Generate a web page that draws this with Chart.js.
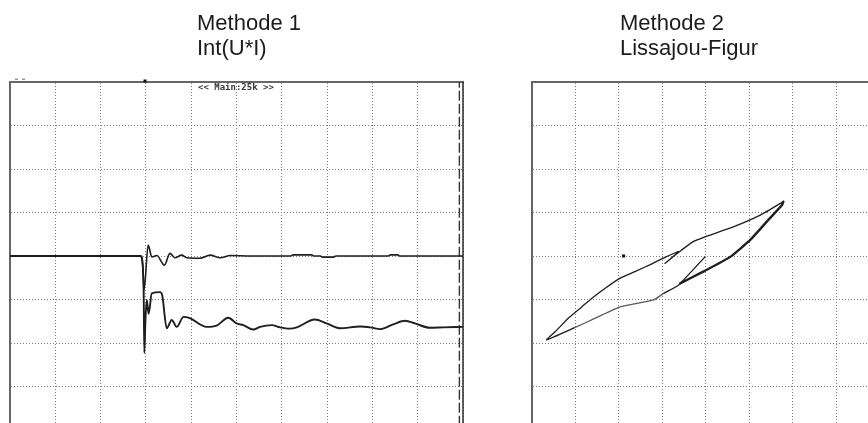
<!DOCTYPE html>
<html>
<head>
<meta charset="utf-8">
<script src="https://cdn.jsdelivr.net/npm/chart.js@4.4.1/dist/chart.umd.min.js"></script>
<style>
  html, body { margin: 0; padding: 0; background: #fff; overflow: hidden; }
  #stage { position: relative; width: 868px; height: 423px; overflow: hidden; background: #fff; }
  canvas { position: absolute; top: 0; }
  .title {
    position: absolute;
    font-family: "Liberation Sans", Arial, sans-serif;
    font-size: 22px;
    line-height: 24.5px;
    color: #1c1c1c;
    white-space: nowrap;
  }
  .scope-label {
    position: absolute;
    font-family: "DejaVu Sans Mono", monospace;
    font-weight: bold;
    font-size: 9px;
    line-height: 9px;
    color: #3a3a3a;
    white-space: pre;
  }
</style>
</head>
<body>
<div id="stage">
  <canvas id="scope-time" width="500" height="460" style="left:0"></canvas>
  <canvas id="scope-xy" width="400" height="460" style="left:500px"></canvas>
  <div class="title" style="left:197px;top:11px">Methode 1<br>Int(U*I)</div>
  <div class="title" style="left:620px;top:11px">Methode 2<br>Lissajou-Figur</div>
  <div class="scope-label" style="left:198px;top:83px">&lt;&lt; Main:25k &gt;&gt;</div>
</div>
<script>
// screen units: divisions (10 x 8 for the time view, 8 x 8 for the xy view)
const ch1Time = [0, 2.87, 2.93, 2.96, 3.05, 3.13, 3.24, 3.41, 3.53, 3.64, 3.79, 3.90, 4.19, 4.42, 4.64, 4.86,
                 5.30, 6.20, 6.25, 6.66, 6.70, 6.85, 6.90, 7.14, 7.20, 8.35, 8.40, 8.56, 8.60, 10];
const ch1Volt = [0, 0, -0.21, -0.78, 0.25, -0.02, 0.01, -0.21, 0.06, -0.04, 0.02, -0.04, -0.05, 0.02, -0.04, 0.01,
                 0, 0, 0.025, 0.025, 0, 0, -0.025, -0.025, 0, 0, 0.025, 0.025, 0, 0];

const ch2Time = [0, 2.89, 2.95, 2.965, 2.99, 3.02, 3.06, 3.13, 3.31, 3.36, 3.46, 3.57, 3.68, 3.83, 3.97, 4.34,
                 4.56, 4.82, 5.00, 5.15, 5.37, 5.52, 5.78, 5.96, 6.18, 6.33, 6.73, 6.99, 7.28, 7.73, 7.95,
                 8.17, 8.46, 8.72, 8.94, 9.27, 9.57, 10];
const ch2Volt = [0, 0, -0.78, -2.23, -1.47, -1.01, -1.33, -0.86, -0.83, -0.90, -1.66, -1.47, -1.63, -1.40, -1.43, -1.63,
                 -1.60, -1.42, -1.55, -1.59, -1.69, -1.63, -1.59, -1.64, -1.67, -1.64, -1.46, -1.55, -1.66, -1.62, -1.64,
                 -1.68, -1.57, -1.49, -1.55, -1.65, -1.64, -1.63];

const cursorTime = 9.92;
const triggerTime = 2.98;

// U/I loop: outer path, then the heavier return stroke
const loopU = [-0.02, -0.63, -0.97, -1.20, -1.97, -2.54, -3.04, -3.66, -3.46, -3.16, -2.85, -2.58, -2.31,
               -1.97, -1.63, -1.24, -0.94, -0.63, -0.94, -0.63, -0.29, -0.02, 0.63, 1.25, 1.78];
const loopI = [-0.02, -0.67, -0.86, -1.01, -1.17, -1.43, -1.66, -1.93, -1.74, -1.43, -1.17, -0.94, -0.74,
               -0.51, -0.36, -0.18, -0.03, 0.10, -0.17, 0.08, 0.33, 0.44, 0.67, 0.94, 1.25];
const returnU = [1.78, 1.75, 1.40, 1.02, 0.56, -0.06, -0.59];
const returnI = [1.25, 1.17, 0.79, 0.37, -0.02, -0.36, -0.63];
const markU = [-1.89];
const markI = [0.0];

const toPoints = (xs, ys) => xs.map((x, i) => ({ x: x, y: ys[i] }));

const gridScale = (min, max, position) => ({
  type: 'linear',
  position: position,
  min: min,
  max: max,
  ticks: { display: false, stepSize: 1 },
  grid: { color: '#7c7c7c', lineWidth: 1, drawTicks: false },
  border: { display: true, color: '#666', width: 2, dash: [1, 2] }
});

const scopeFrame = {
  id: 'scopeFrame',
  afterDatasetsDraw(chart, args, opts) {
    const { ctx, chartArea, scales } = chart;
    ctx.save();
    if (opts.rightEdge) {
      ctx.strokeStyle = '#2a2a2a';
      ctx.lineWidth = 1.5;
      ctx.beginPath();
      ctx.moveTo(chartArea.right, chartArea.top);
      ctx.lineTo(chartArea.right, chartArea.bottom);
      ctx.stroke();
    }
    if (opts.trigger != null) {
      const x = scales.x.getPixelForValue(opts.trigger);
      ctx.fillStyle = '#111';
      ctx.fillRect(x - 1.5, chartArea.top - 2.5, 3, 3);
    }
    if (opts.marks) {
      ctx.fillStyle = '#9a9a9a';
      ctx.fillRect(chartArea.left + 5, chartArea.top - 3.5, 3, 1.5);
      ctx.fillRect(chartArea.left + 12, chartArea.top - 3.5, 3, 1.5);
    }
    ctx.restore();
  }
};

const baseOptions = (padding, xRange, frame) => ({
  responsive: false,
  animation: false,
  layout: { padding: padding, autoPadding: false },
  scales: {
    x: gridScale(xRange[0], xRange[1], 'top'),
    y: gridScale(-4, 4, 'left')
  },
  plugins: {
    legend: { display: false },
    tooltip: { enabled: false },
    scopeFrame: frame
  }
});

const trace = (points, width, smooth) => Object.assign({
  data: points,
  borderColor: '#1e1e1e',
  borderWidth: width,
  pointRadius: 0,
  borderJoinStyle: 'round',
  borderCapStyle: 'round'
}, smooth);

new Chart(document.getElementById('scope-time'), {
  type: 'line',
  data: {
    datasets: [
      trace(toPoints(ch1Time, ch1Volt), 1.6, { cubicInterpolationMode: 'monotone' }),
      trace(toPoints(ch2Time, ch2Volt), 1.9, { cubicInterpolationMode: 'monotone' }),
      {
        data: [{ x: cursorTime, y: -4.5 }, { x: cursorTime, y: 4 }],
        borderColor: '#333',
        borderWidth: 1.4,
        borderDash: [10, 3],
        pointRadius: 0
      }
    ]
  },
  options: baseOptions({ left: 10, top: 82, right: 37, bottom: 30 }, [0, 10],
    { rightEdge: true, trigger: triggerTime, marks: true }),
  plugins: [scopeFrame]
});

new Chart(document.getElementById('scope-xy'), {
  type: 'line',
  data: {
    datasets: [
      Object.assign(trace(toPoints(loopU, loopI), 1.3, { tension: 0.15 }), {
        segment: {
          borderColor: c => (c.p0DataIndex >= 2 && c.p0DataIndex <= 5) ? '#5a5a5a' : undefined
        }
      }),
      trace(toPoints(returnU, returnI), 2.4, { tension: 0.15 }),
      {
        data: toPoints(markU, markI),
        showLine: false,
        pointStyle: 'rect',
        pointRadius: 2.2,
        pointBackgroundColor: '#111',
        pointBorderWidth: 0
      }
    ]
  },
  options: baseOptions({ left: 31.7, top: 82, right: 20, bottom: 30 }, [-4, 4], {}),
  plugins: [scopeFrame]
});
</script>
</body>
</html>
